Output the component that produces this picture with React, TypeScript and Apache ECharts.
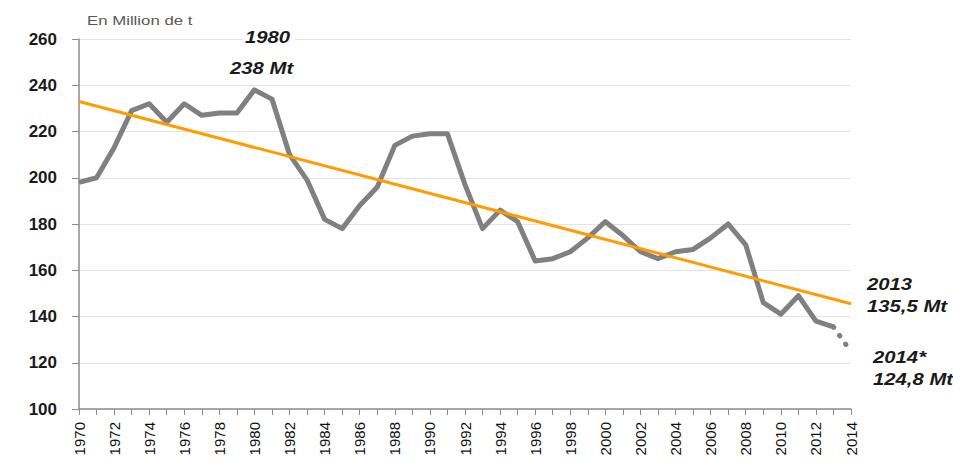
import React, { useEffect, useRef } from "react";
import * as echarts from "echarts";

const years: string[] = [];
for (let y = 1970; y <= 2014; y++) years.push(String(y));

const production: (number | null)[] = [
  198, 200, 213, 229, 232, 224, 232, 227, 228, 228,
  238, 234, 210, 199, 182, 178, 188, 196, 214, 218,
  219, 219, 197, 178, 186, 181, 164, 165, 168, 174,
  181, 175, 168, 165, 168, 169, 174, 180, 171, 146,
  141, 149, 138, 135.5, null,
];

const estimateYears = ["2013", "2014"];
const estimateValues = [135.5, 124.8];

const trendYears = ["1970", "2014"];
const trendValues = [233, 145.5];

const yTicks = { min: 100, max: 260, interval: 20 };

export default function App() {
  const ref = useRef<HTMLDivElement>(null);
  useEffect(() => {
    if (!ref.current) return;
    const chart = echarts.init(ref.current, null, { renderer: "svg" });
    const estimate = years.map((y) => {
      const i = estimateYears.indexOf(y);
      return i >= 0 ? estimateValues[i] : null;
    });
    const trend = years.map((y) => {
      const i = trendYears.indexOf(y);
      return i >= 0 ? trendValues[i] : null;
    });
    const annot = {
      fontFamily: "Liberation Sans, Arial, sans-serif",
      fontWeight: "bold",
      fontStyle: "italic",
      fontSize: 16,
      fill: "#1a1a1a",
    };
    const sx = 1.27;
    chart.setOption({
      animation: false,
      backgroundColor: "#ffffff",
      grid: { left: 79, right: 102, top: 39, bottom: 54, containLabel: false },
      xAxis: {
        type: "category",
        data: years,
        boundaryGap: false,
        axisLine: { lineStyle: { color: "#8c8c8c", width: 1.5 } },
        axisTick: { show: true, interval: 0, length: 6, lineStyle: { color: "#8c8c8c" } },
        axisLabel: {
          interval: 1,
          rotate: 90,
          margin: 13,
          color: "#111111",
          fontSize: 15,
          fontFamily: "Liberation Sans, Arial, sans-serif",
        },
        splitLine: { show: false },
      },
      yAxis: {
        type: "value",
        min: yTicks.min,
        max: yTicks.max,
        interval: yTicks.interval,
        axisLine: { show: true, lineStyle: { color: "#8c8c8c", width: 1.5 } },
        axisTick: { show: true, length: 7, lineStyle: { color: "#8c8c8c" } },
        axisLabel: {
          color: "#1a1a1a",
          fontSize: 17,
          fontWeight: "bold",
          margin: 22,
          fontFamily: "Liberation Sans, Arial, sans-serif",
        },
        splitLine: { show: true, lineStyle: { color: "#e3e3e3", width: 1 } },
      },
      series: [
        {
          type: "line",
          data: production,
          showSymbol: false,
          symbol: "none",
          lineStyle: { color: "#808080", width: 5, join: "round" },
          z: 3,
        },
        {
          type: "line",
          data: estimate,
          showSymbol: false,
          symbol: "none",
          connectNulls: false,
          lineStyle: { color: "#808080", width: 5, type: [0.5, 10], cap: "round" },
          z: 3,
        },
        {
          type: "line",
          data: trend,
          connectNulls: true,
          showSymbol: false,
          symbol: "none",
          lineStyle: { color: "#ff9c00", width: 3 },
          z: 4,
        },
      ],
      graphic: [
        {
          type: "text",
          left: 87,
          top: 15,
          z: 100,
          scaleX: 1.4,
          style: {
            text: "En Million de t",
            fontFamily: "Liberation Sans, Arial, sans-serif",
            fontSize: 12,
            fill: "#595959",
          },
        },
        { type: "rect", z: 99, shape: { x: 243, y: 36, width: 52, height: 6 }, style: { fill: "#ffffff" } },
        { type: "text", left: 245, top: 29, z: 100, scaleX: sx, style: { ...annot, text: "1980" } },
        { type: "text", left: 230, top: 60, z: 100, scaleX: sx, style: { ...annot, text: "238 Mt" } },
        { type: "text", left: 867, top: 276, z: 100, scaleX: sx, style: { ...annot, text: "2013" } },
        { type: "text", left: 867, top: 298, z: 100, scaleX: sx, style: { ...annot, text: "135,5 Mt" } },
        { type: "text", left: 873, top: 349, z: 100, scaleX: sx, style: { ...annot, text: "2014*" } },
        { type: "text", left: 873, top: 371, z: 100, scaleX: sx, style: { ...annot, text: "124,8 Mt" } },
      ],
    });
    return () => chart.dispose();
  }, []);
  return <div ref={ref} style={{ width: 953, height: 463, position: "absolute", left: 0, top: 0 }} />;
}
